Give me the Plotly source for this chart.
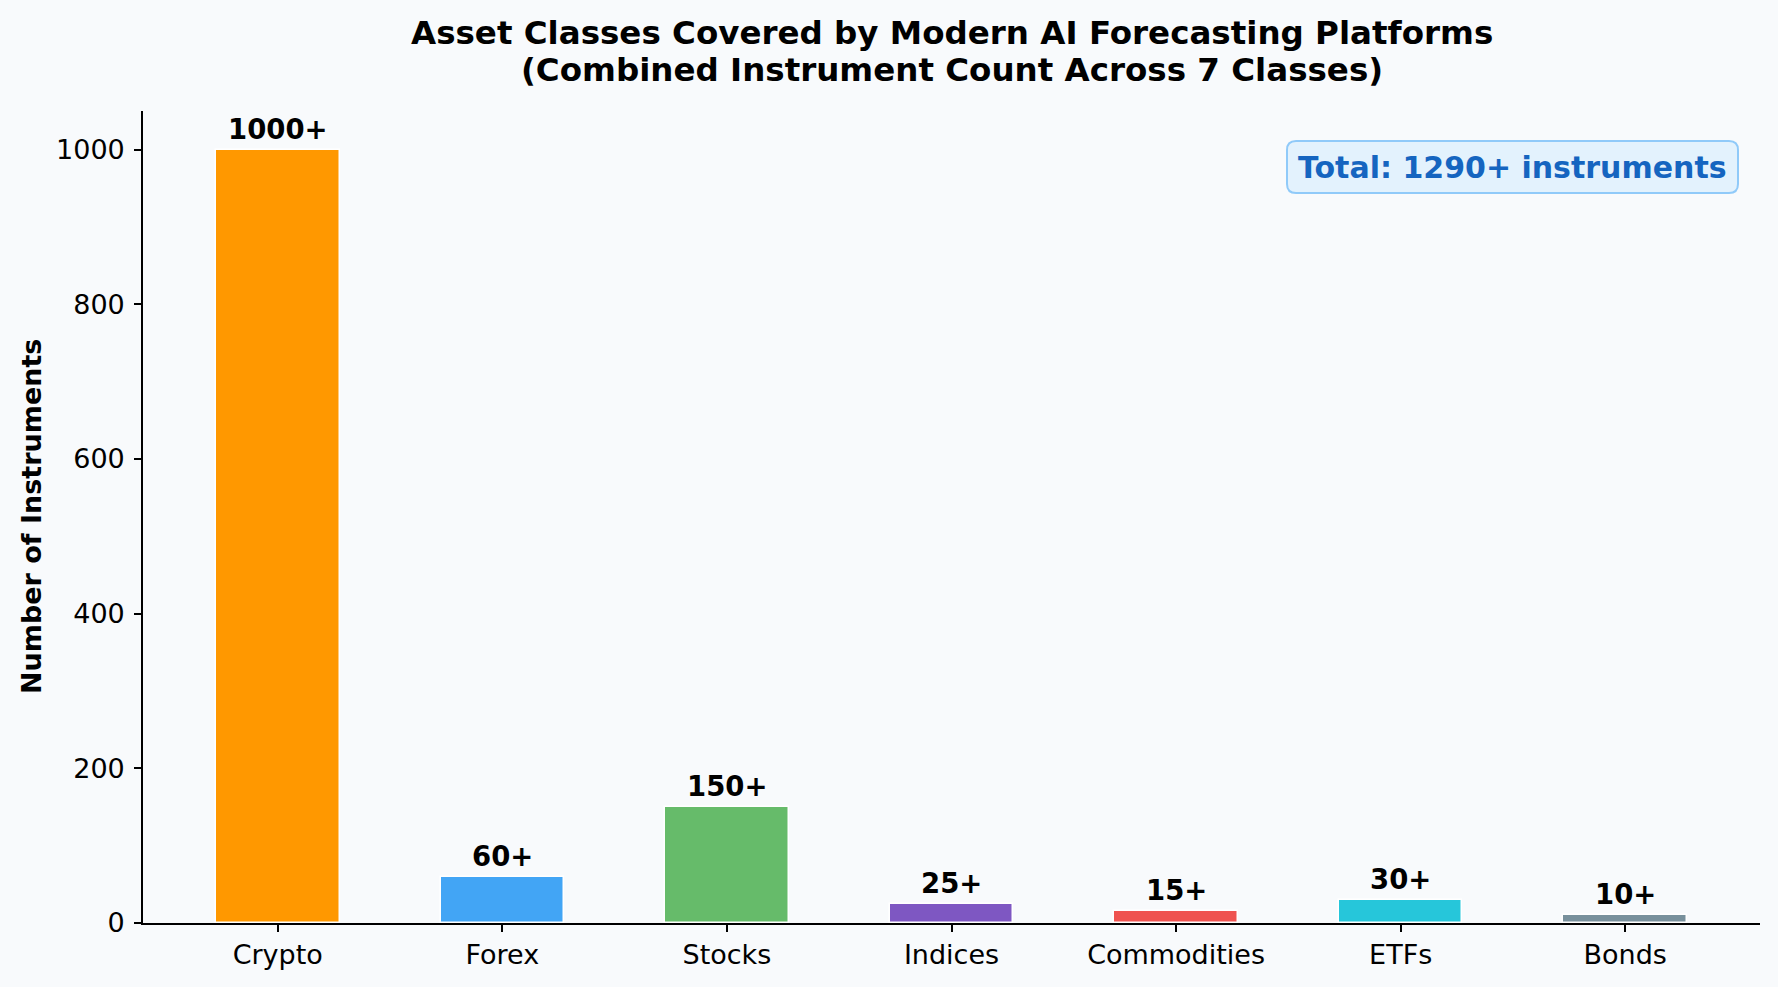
import plotly.graph_objects as go

# Asset classes and instrument counts
categories = ["Crypto", "Forex", "Stocks", "Indices", "Commodities", "ETFs", "Bonds"]
counts = [1000, 60, 150, 25, 15, 30, 10]
count_labels = ["1000+", "60+", "150+", "25+", "15+", "30+", "10+"]
bar_colors = ["#FF9800", "#42A5F5", "#66BB6A", "#7E57C2", "#EF5350", "#26C6DA", "#78909C"]
y_ticks = [0, 200, 400, 600, 800, 1000]
total_text = "Total: 1290+ instruments"
title_lines = ["Asset Classes Covered by Modern AI Forecasting Platforms",
               "(Combined Instrument Count Across 7 Classes)"]

W, H = 1778, 987
L, R, T, B = 143, 18, 111, 64
plot_w = W - L - R
plot_h = H - T - B
bg = "#F8FAFC"
font = "DejaVu Sans"

fig = go.Figure()
fig.add_trace(go.Bar(
    x=categories,
    y=counts,
    width=0.55,
    marker=dict(color=bar_colors, line=dict(color="white", width=1.5)),
    showlegend=False,
    hoverinfo="x+y",
))

# value labels above bars
for cat, val, lab in zip(categories, counts, count_labels):
    fig.add_annotation(x=cat, y=val, text=lab, showarrow=False,
                       yanchor="bottom", yshift=3,
                       font=dict(family=font, size=27.5, color="black", weight="bold"))

# total box (rounded) in top right
def px_x(p):
    return (p - L) / plot_w


def px_y(p):
    return (H - B - p) / plot_h


x0, x1, y0, y1 = px_x(1287), px_x(1738), px_y(193), px_y(141)
rx, ry = 9 / plot_w, 9 / plot_h
path = (f"M {x0 + rx},{y0} L {x1 - rx},{y0} Q {x1},{y0} {x1},{y0 + ry} "
        f"L {x1},{y1 - ry} Q {x1},{y1} {x1 - rx},{y1} "
        f"L {x0 + rx},{y1} Q {x0},{y1} {x0},{y1 - ry} "
        f"L {x0},{y0 + ry} Q {x0},{y0} {x0 + rx},{y0} Z")
fig.add_shape(type="path", path=path, xref="paper", yref="paper",
              fillcolor="#E3F2FD", line=dict(color="#90CAF9", width=2))
fig.add_annotation(x=(x0 + x1) / 2, y=(y0 + y1) / 2, xref="paper", yref="paper",
                   text=total_text, showarrow=False, xanchor="center", yanchor="middle",
                   font=dict(family=font, size=30, color="#1565C0", weight="bold"))

# y axis title
fig.add_annotation(x=0, y=0.5, xref="paper", yref="paper", xshift=-112,
                   text="Number of Instruments", textangle=-90, showarrow=False,
                   xanchor="center", yanchor="middle",
                   font=dict(family=font, size=27, color="black", weight="bold"))

# title, two lines (matplotlib-like line spacing)
for line, shift in zip(title_lines, [78, 41]):
    fig.add_annotation(x=0.5, y=1, xref="paper", yref="paper", yshift=shift,
                       text=line, showarrow=False, xanchor="center", yanchor="middle",
                       font=dict(family=font, size=32.5, color="black", weight="bold"))

fig.update_layout(
    width=W, height=H,
    margin=dict(l=L, r=R, t=T, b=B, pad=0),
    paper_bgcolor=bg, plot_bgcolor=bg,
    font=dict(family=font, size=27, color="black"),
    bargap=0,
)
fig.update_xaxes(range=[-0.6, 6.6], showline=True, linecolor="black", linewidth=1.7,
                 ticks="outside", ticklen=7, tickwidth=1.7, tickcolor="black",
                 showgrid=False, zeroline=False, tickfont=dict(size=27))
fig.update_yaxes(range=[0, 1050], tickvals=y_ticks, showline=True, linecolor="black",
                 linewidth=1.7, ticks="outside", ticklen=7, tickwidth=1.7,
                 tickcolor="black", showgrid=False, zeroline=False,
                 tickfont=dict(size=27), ticklabelstandoff=4)

fig.write_html("out.html", config={"displayModeBar": False},
               post_script="document.body.style.margin='0';")
